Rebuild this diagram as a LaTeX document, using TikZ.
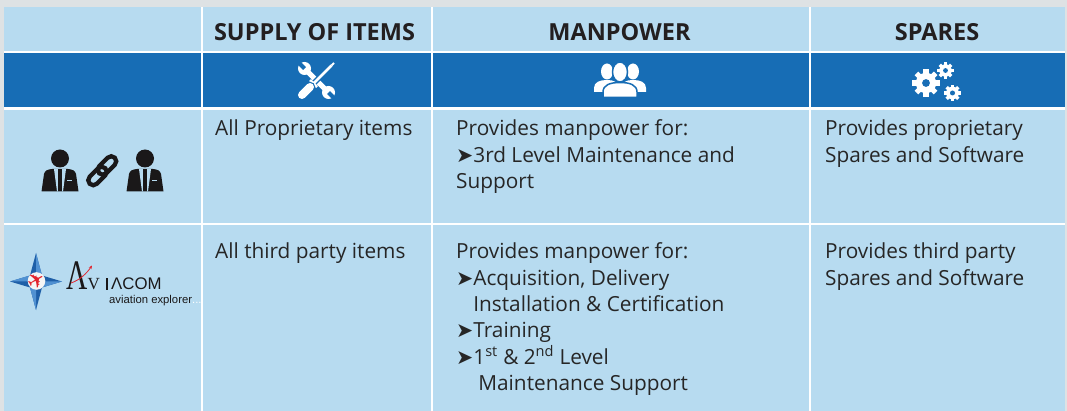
\documentclass[tikz,border=0pt]{standalone}
\usepackage{fontspec}
\setmainfont{Open Sans}
\newfontfamily\dejavu{DejaVu Sans}
\newfontfamily\lserif{Liberation Serif}
\newfontfamily\lsans{Liberation Sans}
\usetikzlibrary{arrows.meta}
\newcommand\myarr{{\dejavu\fontsize{20.5}{20}\selectfont ➤}}
\definecolor{bggray}{RGB}{222,226,228}
\definecolor{cellblue}{RGB}{183,219,240}
\definecolor{darkblue}{RGB}{23,109,181}
\definecolor{txt}{RGB}{38,38,38}
\definecolor{hdrtxt}{RGB}{35,31,32}
\definecolor{starblue}{RGB}{30,95,168}
\definecolor{starlight}{RGB}{80,145,210}
\definecolor{logored}{RGB}{226,35,45}
\definecolor{iconblack}{RGB}{26,24,25}
\begin{document}
\begin{tikzpicture}[x=1pt,y=-1pt,
  hdr/.style={font=\fontsize{23.5}{28}\bfseries\selectfont, text=hdrtxt, anchor=base, inner sep=0},
  body/.style={font=\fontsize{20.8}{26.3}\selectfont, text=txt, anchor=base west, inner sep=0},
  bman/.pic={
    \fill[iconblack] (0,0) circle (9);
    \fill[iconblack] (-18.5,33) -- (-16,15.5) .. controls (-15.2,12) and (-12.5,11) .. (-8,10.5) -- (8,10.5) .. controls (12.5,11) and (15.2,12) .. (16,15.5) -- (18.5,33) -- cycle;
    \fill[cellblue] (-6,10.5) -- (-2.2,10.5) -- (-2,33) -- (-3,33) -- cycle;
    \fill[cellblue] (6,10.5) -- (2.2,10.5) -- (2,33) -- (3,33) -- cycle;
    \fill[cellblue] (7,21.5) rectangle (11.5,23);
  }]
\useasboundingbox (0,0) rectangle (1067,411);
\fill[bggray] (0,0) rectangle (1067,411);
\fill[white] (3.5,7) rectangle (1065,411);
\foreach \xa/\xb in {3.5/200.7, 202.7/430.5, 432.8/808.5, 811/1065} {
  \fill[cellblue] (\xa,7) rectangle (\xb,51);
  \fill[darkblue] (\xa,53.5) rectangle (\xb,106.8);
  \fill[cellblue] (\xa,110) rectangle (\xb,222.7);
  \fill[cellblue] (\xa,225.5) rectangle (\xb,411);
}
% headers
\node[hdr] (hsup) at (314.5,41) {SUPPLY OF ITEMS};
\node[hdr] (hman) at (619.5,41) {MANPOWER};
\node[hdr] (hspa) at (937,41) {SPARES};
% tools icon
\begin{scope}[shift={(316.5,80.5)}]
  \draw[white, line width=5] (-9,-9) -- (9,9);
  \fill[white] (-12,-12) circle (6.5);
  \fill[white] (12,12) circle (6.5);
  \draw[darkblue, line width=4.2] (-12,-12) -- (-20,-20);
  \draw[darkblue, line width=4.2] (12,12) -- (20,20);
  \draw[darkblue, line width=5.5] (13,-13) -- (-3,3);
  \draw[white, line width=2.8] (15,-15) -- (-3,3);
  \draw[white, line width=1.8] (15,-15) -- (17.5,-17.5);
  \draw[white, line width=2.5] (-6.5,-0.5) -- (0.5,6.5);
  \draw[darkblue, line width=10.5, line cap=round] (-6.5,6.5) -- (-14.5,14.5);
  \draw[white, line width=8, line cap=round] (-6.5,6.5) -- (-14.5,14.5);
\end{scope}
% people icon
\fill[white] (607,71.5) ellipse (6 and 8);
\fill[white] (633,71.5) ellipse (6 and 8);
\fill[white] (594,92) -- (594,88) .. controls (594,82) and (600,80) .. (607,80) .. controls (614,80) and (618,82) .. (618,88) -- (618,92) -- cycle;
\fill[white] (622,92) -- (622,88) .. controls (622,82) and (626,80) .. (633,80) .. controls (640,80) and (646,82) .. (646,88) -- (646,92) -- cycle;
\filldraw[fill=white, draw=darkblue, line width=1.5] (603,97.5) -- (603,92) .. controls (603,85) and (610,82.5) .. (620,82.5) .. controls (630,82.5) and (637,85) .. (637,92) -- (637,97.5) -- cycle;
\filldraw[fill=white, draw=darkblue, line width=1.5] (620,72) ellipse (7.5 and 10);
% gears icon
\foreach \cx/\cy/\br/\tl/\tw/\hr in {926/83/10.2/4.4/5.2/3.9, 945.5/70.5/6.2/2.9/3.4/2.4, 952.5/93/6.3/2.9/3.5/2.5} {
  \fill[white] (\cx,\cy) circle (\br);
  \foreach \a in {0,45,...,315}
    \draw[white, line width=\tw] (\cx,\cy) ++(\a:\br-1) -- ++(\a:\tl);
  \fill[darkblue] (\cx,\cy) circle (\hr);
}
% businessmen + link
\pic (man1) at (60,158.5) {bman};
\pic (man2) at (145,158.5) {bman};
\draw[iconblack, line width=4.3, rounded corners=5, rotate around={45:(107,165.5)}] (96,160.5) rectangle (118,170.5);
\draw[iconblack, line width=4.3, rounded corners=5, rotate around={45:(97.5,176)}] (86.5,171) rectangle (108.5,181);
% Aviacom logo
\fill[starblue] (36,253) -- (42,275.5) -- (62,281.5) -- (42,287.5) -- (36,310) -- (30,287.5) -- (10,281.5) -- (30,275.5) -- cycle;
\fill[starlight] (36,253) -- (42,275.5) -- (36,281.5) -- cycle;
\fill[starlight] (62,281.5) -- (42,287.5) -- (36,281.5) -- cycle;
\fill[starlight] (36,310) -- (30,287.5) -- (36,281.5) -- cycle;
\fill[starlight] (10,281.5) -- (30,275.5) -- (36,281.5) -- cycle;
\fill[white!92!gray] (36.5,281) circle (8.8);
\node[text=logored, rotate=30, inner sep=0, font=\dejavu\fontsize{21}{21}\selectfont] (plane) at (36.5,281) {✈};
\node[anchor=base west, inner sep=0, xscale=0.7, font=\lserif\fontsize{42}{42}\selectfont, text=iconblack] (bigA) at (66,290) {Λ};
\node[anchor=base west, inner sep=0, font=\lserif\fontsize{17}{17}\selectfont, text=iconblack] (avV) at (87.5,290) {V};
\fill[iconblack] (105.5,278.5) rectangle (108,290);
\node[anchor=base west, inner sep=0, font=\lsans\fontsize{16.8}{17}\selectfont, text=iconblack] (avcom) at (111,290) {ΛCOM};
\node[anchor=base west, inner sep=0, font=\lsans\fontsize{11.3}{12}\selectfont, text=iconblack] (avexp) at (109,303) {aviation explorer\textcolor{white}{...}};
\draw[logored, line width=0.8, -{Stealth[length=3.5pt,width=3pt]}] (71,283) .. controls (80,280) and (87,273) .. (92,265.5);
% body texts
\node[body] (r1c2) at (215,136) {All Proprietary items};
\node[body] (r1c3) at (456,136) {\begin{tabular}[t]{@{}l@{}}Provides manpower for:\\\myarr 3rd Level Maintenance and\\Support\end{tabular}};
\node[body] (r1c4) at (825,136) {\begin{tabular}[t]{@{}l@{}}Provides proprietary\\Spares and Software\end{tabular}};
\node[body] (r2c2) at (215,259) {All third party items};
\node[body] (r2c3) at (456,259) {\begin{tabular}[t]{@{}l@{}}Provides manpower for:\\ \myarr Acquisition, Delivery\\ \phantom{\myarr}Installation \& Certification\\ \myarr Training\\ \myarr 1\textsuperscript{st} \& 2\textsuperscript{nd} Level\\ \phantom{\myarr}\hspace{5pt}Maintenance Support\end{tabular}};
\node[body] (r2c4) at (825,259) {\begin{tabular}[t]{@{}l@{}}Provides third party\\Spares and Software\end{tabular}};
\end{tikzpicture}
\end{document}
